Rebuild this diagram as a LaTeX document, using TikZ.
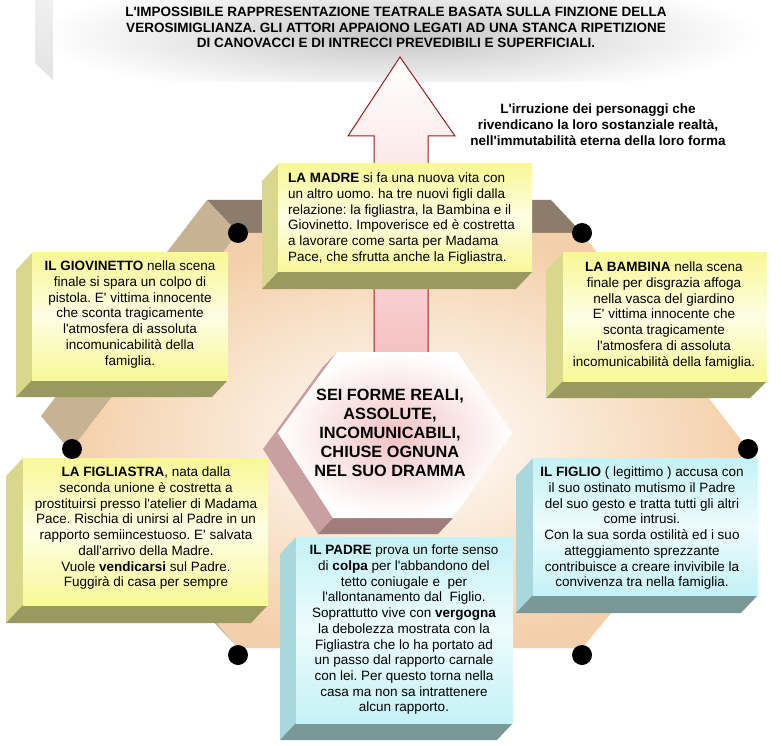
\documentclass[tikz,border=0pt]{standalone}
\usepackage{fontspec}
\usetikzlibrary{shadings}
\newfontfamily\boxfont{Liberation Sans}
\frenchspacing
\definecolor{ysidecol}{HTML}{D8D88C}
\definecolor{ybasecol}{HTML}{9A9A60}
\definecolor{yfacecol}{HTML}{F8F896}
\definecolor{csidecol}{HTML}{A8D8DC}
\definecolor{cbasecol}{HTML}{7A9898}
\definecolor{cfacecol}{HTML}{C4F2F6}
\definecolor{hextopcol}{HTML}{8C7C6C}
\definecolor{hexsidecol}{HTML}{C8B294}
\definecolor{peachcol}{HTML}{F4D0AA}
\definecolor{mauvecol}{HTML}{C8A0A0}
\definecolor{mauvedarkcol}{HTML}{A07C7C}
\definecolor{hexpinkcol}{HTML}{F2C2C4}
\definecolor{arrowredcol}{HTML}{A01C1C}
\definecolor{arrowpinkcol}{HTML}{F5C0C0}
% a box seen in relief: x1, y1, x2, y2, depth x, depth y, colour set
\newcommand\slab[7]{%
\fill[#7side] (#1,#2) -- (#1-#5,#2+#6) -- (#1-#5,#4+#6) -- (#1,#4) -- cycle;
\fill[#7base] (#1,#4) -- (#1-#5,#4+#6) -- (#3-#5,#4+#6) -- (#3,#4) -- cycle;
\shade[#7front] (#1,#2) rectangle (#3,#4);}

\begin{document}
\begin{tikzpicture}[x=1pt,y=-1pt,
  yside/.style={fill=ysidecol}, ybase/.style={fill=ybasecol},
  yfront/.style={top color=yfacecol, bottom color=yfacecol, middle color=white!75!yfacecol},
  cside/.style={fill=csidecol}, cbase/.style={fill=cbasecol},
  cfront/.style={top color=cfacecol, bottom color=cfacecol, middle color=white!70!cfacecol},
  boxtext/.style={font=\boxfont\fontsize{13.5}{15.7}\selectfont, inner sep=0pt, align=center, anchor=north},
  dot/.style={circle, fill=black, minimum size=20pt, inner sep=0pt}]
\useasboundingbox (0,0) rectangle (782,746);
\fill[white] (0,0) rectangle (782,746);
% Drawing banner
\shade[top color=gray!12, bottom color=gray!22] (35,0) -- (53,0) -- (53,80) -- (35,63) -- cycle;
\begin{scope}
\clip (53,0) rectangle (782,82);
\shade[inner color=gray!45, outer color=white] (400,36) ellipse (360 and 62);
\end{scope}
\node[font=\boxfont\bfseries\fontsize{13.5}{15.8}\selectfont, align=center, inner sep=0pt] (titolo) at (396,27.5)
  {L'IMPOSSIBILE RAPPRESENTAZIONE TEATRALE BASATA SULLA FINZIONE DELLA\\
   VEROSIMIGLIANZA. GLI ATTORI APPAIONO LEGATI AD UNA STANCA RIPETIZIONE\\
   DI CANOVACCI E DI INTRECCI PREVEDIBILI E SUPERFICIALI.};
\node[font=\boxfont\bfseries\fontsize{13.5}{16}\selectfont, align=center, inner sep=0pt, anchor=north] (irruzione) at (598,104)
  {L'irruzione dei personaggi che\\
   rivendicano la loro sostanziale realtà,\\
   nell'immutabilità eterna della loro forma};
% Drawing hexagon
\fill[hextopcol] (582,233) -- (238,233) -- (207,200) -- (551,200) -- cycle;
\fill[hexsidecol] (238,233) -- (72,449) -- (41,416) -- (207,200) -- cycle;
\fill[hexsidecol] (72,449) -- (238,648) -- (207,615) -- (41,416) -- cycle;
\shade[inner color=white, outer color=peachcol] (238,233) -- (72,449) -- (238,648) -- (582,648) -- (748,449) -- (582,233) -- cycle;
% Drawing arrow
\shadedraw[draw=arrowredcol, line width=1pt, top color=white, bottom color=arrowpinkcol]
  (400,57) -- (455,136) -- (428,136) -- (428,360) -- (374,360) -- (374,136) -- (348,136) -- cycle;
% Drawing centre
\fill[mauvecol] (337,352) -- (278,433) -- (263,449) -- (322,368) -- cycle;
\fill[mauvecol] (278,433) -- (333,518) -- (318,534) -- (263,449) -- cycle;
\fill[mauvedarkcol] (333,518) -- (453,518) -- (438,534) -- (318,534) -- cycle;
\shade[inner color=hexpinkcol, outer color=white] (337,352) -- (457,352) -- (512,433) -- (453,518) -- (333,518) -- (278,433) -- cycle;
\node[font=\boxfont\bfseries\fontsize{16.3}{19.1}\selectfont, align=center, inner sep=0pt] (forme) at (390,433)
  {SEI FORME REALI,\\ ASSOLUTE,\\ INCOMUNICABILI,\\ CHIUSE OGNUNA\\ NEL SUO DRAMMA};
% Drawing boxes
\slab{278}{164}{532}{272}{16}{17}{y}
\node[boxtext, anchor=north west, align=left] (madre) at (288,172.9)
  {\textbf{LA MADRE} si fa una nuova vita con\\
   un altro uomo. ha tre nuovi figli dalla\\
   relazione: la figliastra, la Bambina e il\\
   Giovinetto. Impoverisce ed è costretta\\
   a lavorare come sarta per Madama\\
   Pace, che sfrutta anche la Figliastra.};
\slab{32}{253}{228}{380}{16}{17}{y}
\node[boxtext] (giovinetto) at (130,260.9)
  {\textbf{IL GIOVINETTO} nella scena\\
   finale si spara un colpo di\\
   pistola. E' vittima innocente\\
   che sconta tragicamente\\
   l'atmosfera di assoluta\\
   incomunicabilità della\\
   famiglia.};
\slab{563}{253}{767}{381}{17}{17}{y}
\node[boxtext] (bambina) at (664,261.9)
  {\textbf{LA BAMBINA} nella scena\\
   finale per disgrazia affoga\\
   nella vasca del giardino\\
   E' vittima innocente che\\
   sconta tragicamente\\
   l'atmosfera di assoluta\\
   incomunicabilità della famiglia.};
\slab{23}{458}{268}{605}{17}{18}{y}
\node[boxtext] (figliastra) at (146,466.9)
  {\textbf{LA FIGLIASTRA}, nata dalla\\
   seconda unione è costretta a\\
   prostituirsi presso l'atelier di Madama\\
   Pace. Rischia di unirsi al Padre in un\\
   rapporto semiincestuoso. E' salvata\\
   dall'arrivo della Madre.\\
   Vuole \textbf{vendicarsi} sul Padre.\\
   Fuggirà di casa per sempre};
\slab{296}{537}{513}{723}{16}{17}{c}
\node[boxtext] (padre) at (404,544.9)
  {\textbf{IL PADRE} prova un forte senso\\
   di \textbf{colpa} per l'abbandono del\\
   tetto coniugale e \ per\\
   l'allontanamento dal \ Figlio.\\
   Soprattutto vive con \textbf{vergogna}\\
   la debolezza mostrata con la\\
   Figliastra che lo ha portato ad\\
   un passo dal rapporto carnale\\
   con lei. Per questo torna nella\\
   casa ma non sa intrattenere\\
   alcun rapporto.};
\slab{533}{458}{758}{595}{17}{18}{c}
\node[boxtext] (figlio) at (642,466.9)
  {\textbf{IL FIGLIO} ( legittimo ) accusa con\\
   il suo ostinato mutismo il Padre\\
   del suo gesto e tratta tutti gli altri\\
   come intrusi.\\
   Con la sua sorda ostilità ed i suo\\
   atteggiamento sprezzante\\
   contribuisce a creare invivibile la\\
   convivenza tra nella famiglia.};
% Drawing dots
\node[dot] (dotnw) at (238,233) {};
\node[dot] (dotne) at (582,233) {};
\node[dot] (dotw) at (72,449) {};
\node[dot] (dote) at (748,449) {};
\node[dot] (dotsw) at (238,655) {};
\node[dot] (dotse) at (582,655) {};
% Done with dots
\end{tikzpicture}
\end{document}
